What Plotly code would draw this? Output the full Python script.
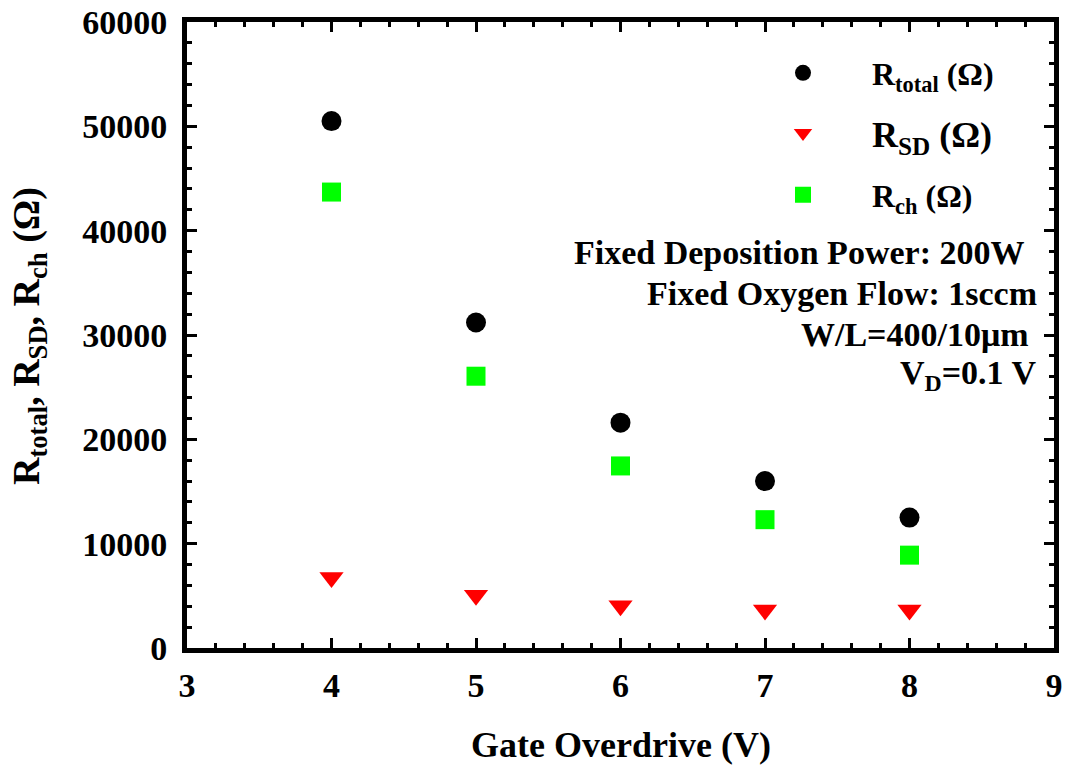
import plotly.graph_objects as go

# ---- data ----
gate_overdrive = [4, 5, 6, 7, 8]
r_total = [50500, 31200, 21600, 16000, 12500]
r_sd = [6750, 5050, 4050, 3650, 3650]
r_ch = [43700, 26050, 17450, 12300, 8900]

x_ticks = [3, 4, 5, 6, 7, 8, 9]
y_ticks = [0, 10000, 20000, 30000, 40000, 50000, 60000]

FONT = "Liberation Serif"
W, H = 1066, 775
L, R, T, B = 187, 1054, 22, 648  # plot area in pixels


def px(xp):
    return (xp - L) / (R - L)


def py(yp):
    return (B - yp) / (B - T)


fig = go.Figure()
fig.add_trace(go.Scatter(
    x=gate_overdrive, y=r_total, mode="markers",
    name="R<sub>total</sub> (Ω)",
    marker=dict(symbol="circle", size=20, color="#000000"),
    legend="legend"))
fig.add_trace(go.Scatter(
    x=gate_overdrive, y=r_sd, mode="markers",
    name="R<sub>SD</sub> (Ω)",
    marker=dict(symbol="triangle-down", size=21, color="#FF0000"),
    legend="legend2"))
fig.add_trace(go.Scatter(
    x=gate_overdrive, y=r_ch, mode="markers",
    name="R<sub>ch</sub> (Ω)",
    marker=dict(symbol="square", size=19, color="#00FF00"),
    legend="legend3"))

axis_common = dict(
    showline=True, linecolor="black", linewidth=5, mirror="ticks",
    ticks="inside", ticklen=10, tickwidth=3, tickcolor="black",
    showgrid=False, zeroline=False, automargin=False,
    tickfont=dict(family=FONT, size=34, color="black", weight="bold"),
)

fig.update_xaxes(
    range=[3, 9], tickvals=x_ticks, ticktext=[str(v) for v in x_ticks],
    minor=dict(dtick=0.2, ticks="inside", ticklen=5, tickwidth=3, tickcolor="black", showgrid=False),
    ticklabelstandoff=3,
    **axis_common)
fig.update_yaxes(
    range=[0, 60000], tickvals=y_ticks, ticktext=[str(v) for v in y_ticks],
    minor=dict(dtick=2000, ticks="inside", ticklen=5, tickwidth=3, tickcolor="black", showgrid=False),
    ticklabelstandoff=8,
    **axis_common)

leg_common = dict(xref="paper", yref="paper", xanchor="left", yanchor="middle",
                  bgcolor="rgba(0,0,0,0)", borderwidth=0, itemwidth=128)
fig.update_layout(
    width=W, height=H,
    margin=dict(l=L, r=W - R, t=T, b=H - B, autoexpand=False),
    paper_bgcolor="white", plot_bgcolor="white",
    showlegend=True,
    legend=dict(x=px(734), y=py(73), font=dict(family=FONT, size=32, color="black", weight="bold"), **leg_common),
    legend2=dict(x=px(734), y=py(133), font=dict(family=FONT, size=36, color="black", weight="bold"), **leg_common),
    legend3=dict(x=px(734), y=py(195), font=dict(family=FONT, size=32, color="black", weight="bold"), **leg_common),
)

# condition text lines
lines = [
    ("Fixed Deposition Power: 200W", 1026, 253),
    ("Fixed Oxygen Flow: 1sccm", 1039, 293),
    ("W/L=400/10μm", 1031, 334),
    ("V<sub>D</sub>=0.1 V", 1039, 375),
]
for txt, xr, yc in lines:
    fig.add_annotation(text=txt, x=px(xr), y=py(yc), xref="paper", yref="paper",
                       xanchor="right", yanchor="middle", showarrow=False,
                       font=dict(family=FONT, size=34, color="black", weight="bold"))

# axis titles
fig.add_annotation(text="Gate Overdrive (V)", x=px(621), y=py(745), xref="paper", yref="paper",
                   xanchor="center", yanchor="middle", showarrow=False,
                   font=dict(family=FONT, size=36, color="black", weight="bold"))
fig.add_annotation(text="R<sub>total</sub>, R<sub>SD</sub>, R<sub>ch</sub> (Ω)", x=px(29), y=py(336),
                   xref="paper", yref="paper", xanchor="center", yanchor="middle",
                   textangle=-90, showarrow=False,
                   font=dict(family=FONT, size=38, color="black", weight="bold"))

fig.write_html("out.html")
